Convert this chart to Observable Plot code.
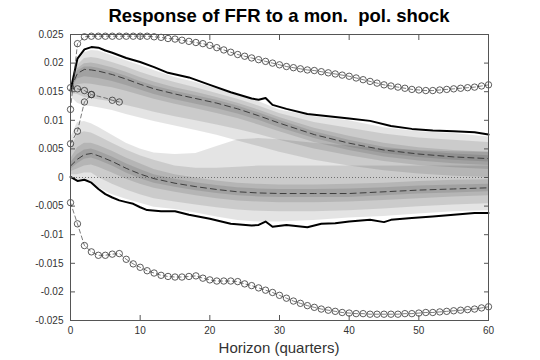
<!DOCTYPE html>
<html><head><meta charset="utf-8">
<script src="https://cdn.jsdelivr.net/npm/d3@7"></script>
<script src="https://cdn.jsdelivr.net/npm/@observablehq/plot@0.6"></script>
<style>
body{margin:0;background:#fff;font-family:"Liberation Sans",Arial,sans-serif;}
#title{height:30px;width:540px;box-sizing:border-box;padding:5px 52px 0 70px;text-align:center;font-weight:bold;font-size:18.5px;line-height:22px;white-space:pre;color:#000}
#xlabel{width:540px;box-sizing:border-box;padding:0 52px 0 70px;text-align:center;font-size:15px;line-height:20px;color:#333}
</style></head><body>
<div id="title">Response of FFR to a mon.  pol. shock</div>
<div id="chart"></div>
<div id="xlabel">Horizon (quarters)</div>
<script>
// ---- data ----
const xTicks = [0,10,20,30,40,50,60];
const xTickLabels = ["0","10","20","30","40","50","60"];
const yTicks = [-0.025,-0.02,-0.015,-0.01,-0.005,0,0.005,0.01,0.015,0.02,0.025];
const yTickLabels = ["-0.025","-0.02","-0.015","-0.01","-0.005","0","0.005","0.01","0.015","0.02","0.025"];

// horizons for fan bands and medians
const H = [0,1,2,3,4,6,8,10,12,15,18,21,24,27,30,35,40,45,50,55,60];
// upper fan median and bands (outer -> inner)
const med1   = [0.0155,0.0182,0.0189,0.0188,0.0186,0.0180,0.0172,0.0163,0.0155,0.0146,0.0138,0.0130,0.0120,0.0108,0.0095,0.0075,0.0060,0.0048,0.0041,0.0036,0.0033];
const f1b1hi = [0.0151,0.0202,0.0218,0.0222,0.0221,0.0213,0.0204,0.0196,0.0187,0.0175,0.0166,0.0155,0.0144,0.0133,0.0118,0.0106,0.0099,0.0087,0.0080,0.0077,0.0071];
const f1b1lo = [0.0142,0.0130,0.0125,0.0124,0.0122,0.0117,0.0110,0.0104,0.0098,0.0090,0.0082,0.0074,0.0064,0.0054,0.0044,0.0030,0.0020,0.0012,0.0006,0.0002,0.0000];
const f1b2hi = [0.0152,0.0196,0.0208,0.0210,0.0208,0.0201,0.0193,0.0184,0.0176,0.0166,0.0157,0.0147,0.0137,0.0125,0.0112,0.0096,0.0086,0.0076,0.0069,0.0065,0.0061];
const f1b2lo = [0.0147,0.0145,0.0140,0.0138,0.0136,0.0132,0.0126,0.0120,0.0114,0.0106,0.0099,0.0092,0.0084,0.0075,0.0065,0.0050,0.0038,0.0028,0.0021,0.0017,0.0014];
const f1b3hi = [0.0154,0.0190,0.0199,0.0200,0.0198,0.0192,0.0184,0.0175,0.0167,0.0157,0.0149,0.0140,0.0130,0.0118,0.0105,0.0086,0.0072,0.0060,0.0052,0.0047,0.0044];
const f1b3lo = [0.0150,0.0162,0.0164,0.0163,0.0161,0.0157,0.0151,0.0144,0.0137,0.0128,0.0120,0.0112,0.0103,0.0092,0.0080,0.0061,0.0047,0.0036,0.0029,0.0024,0.0021];
const f1b4hi = [0.0156,0.0186,0.0193,0.0193,0.0191,0.0185,0.0177,0.0168,0.0160,0.0151,0.0143,0.0135,0.0125,0.0113,0.0100,0.0080,0.0065,0.0053,0.0046,0.0041,0.0038];
const f1b4lo = [0.0152,0.0172,0.0176,0.0175,0.0173,0.0168,0.0161,0.0153,0.0145,0.0136,0.0128,0.0120,0.0111,0.0100,0.0087,0.0068,0.0053,0.0042,0.0035,0.0030,0.0027];
// lower fan median and bands (outer -> inner)
const med2   = [0.0020,0.0032,0.0040,0.0042,0.0038,0.0028,0.0016,0.0006,-0.0002,-0.0010,-0.0016,-0.0021,-0.0025,-0.0027,-0.0028,-0.0028,-0.0028,-0.0025,-0.0022,-0.0020,-0.0018];
const f2b1hi = [0.0068,0.0096,0.0098,0.0094,0.0088,0.0074,0.0060,0.0050,0.0043,0.0040,0.0042,0.0054,0.0066,0.0068,0.0066,0.0060,0.0055,0.0050,0.0047,0.0045,0.0044];
const f2b1lo = [0.0000,-0.0004,-0.0004,-0.0007,-0.0018,-0.0030,-0.0038,-0.0045,-0.0052,-0.0056,-0.0062,-0.0069,-0.0075,-0.0078,-0.0078,-0.0075,-0.0071,-0.0068,-0.0064,-0.0060,-0.0058];
const f2b2hi = [0.0048,0.0076,0.0080,0.0078,0.0072,0.0060,0.0048,0.0038,0.0030,0.0020,0.0016,0.0016,0.0018,0.0020,0.0020,0.0020,0.0020,0.0020,0.0020,0.0020,0.0020];
const f2b2lo = [0.0005,0.0005,0.0008,0.0008,0.0000,-0.0012,-0.0022,-0.0030,-0.0037,-0.0043,-0.0048,-0.0053,-0.0057,-0.0059,-0.0060,-0.0060,-0.0058,-0.0055,-0.0051,-0.0048,-0.0046];
const f2b3hi = [0.0032,0.0052,0.0060,0.0060,0.0056,0.0046,0.0034,0.0024,0.0014,0.0005,-0.0001,-0.0006,-0.0010,-0.0012,-0.0013,-0.0013,-0.0012,-0.0010,-0.0007,-0.0005,-0.0004];
const f2b3lo = [0.0010,0.0015,0.0020,0.0022,0.0018,0.0008,-0.0003,-0.0012,-0.0019,-0.0026,-0.0032,-0.0037,-0.0041,-0.0043,-0.0044,-0.0044,-0.0043,-0.0040,-0.0037,-0.0034,-0.0032];
const f2b4hi = [0.0026,0.0040,0.0048,0.0050,0.0046,0.0036,0.0024,0.0014,0.0005,-0.0003,-0.0009,-0.0014,-0.0018,-0.0020,-0.0021,-0.0021,-0.0020,-0.0018,-0.0015,-0.0013,-0.0012];
const f2b4lo = [0.0014,0.0024,0.0032,0.0034,0.0030,0.0020,0.0008,-0.0002,-0.0010,-0.0017,-0.0023,-0.0028,-0.0032,-0.0034,-0.0035,-0.0035,-0.0035,-0.0032,-0.0029,-0.0027,-0.0025];

// black solid bounds
const hUpper = [0,1,2,3,4,5,6,8,10,12,14,17,20,23,26,27,28,29,31,34,37,40,43,46,49,52,55,58,60];
const upper  = [0.0152,0.0208,0.0224,0.0228,0.0227,0.0222,0.0218,0.0209,0.0202,0.0193,0.0183,0.0175,0.0162,0.0149,0.0138,0.0136,0.0139,0.0127,0.0120,0.0111,0.0107,0.0103,0.0099,0.0090,0.0085,0.0082,0.0081,0.0079,0.0075];
const hLower = [0,1,2,3,4,5,6,7,8,9,10,11,13,15,17,20,23,26,27,28,29,31,34,36,38,40,43,45,46,49,52,55,58,60];
const lower  = [0.0001,-0.0006,-0.0004,-0.0009,-0.0020,-0.0029,-0.0035,-0.0040,-0.0043,-0.0046,-0.0052,-0.0057,-0.0059,-0.0059,-0.0065,-0.0072,-0.0081,-0.0084,-0.0083,-0.0077,-0.0086,-0.0083,-0.0087,-0.0081,-0.0080,-0.0077,-0.0074,-0.0078,-0.0074,-0.0071,-0.0068,-0.0065,-0.0062,-0.0062];

// circle-marker series (every quarter 0..60)
const hQ = d3.range(0, 61);
const circUpper = [0.0119,0.0234,0.0246,0.0247,0.0247,0.0247,0.0247,0.0247,0.0247,0.0247,0.0247,0.0247,0.0246,0.0245,0.0243,0.0242,0.0240,0.0238,0.0236,0.0234,0.0231,0.0227,0.0223,0.0219,0.0215,0.0212,0.0209,0.0206,0.0203,0.0200,0.0197,0.0194,0.0192,0.0190,0.0188,0.0187,0.0185,0.0183,0.0181,0.0179,0.0177,0.0174,0.0171,0.0168,0.0165,0.0162,0.0160,0.0158,0.0156,0.0154,0.0153,0.0152,0.0152,0.0153,0.0154,0.0155,0.0156,0.0157,0.0158,0.0160,0.0162];
const circLower = [-0.0044,-0.0081,-0.0119,-0.0130,-0.0136,-0.0136,-0.0134,-0.0133,-0.0143,-0.0151,-0.0157,-0.0163,-0.0167,-0.0171,-0.0173,-0.0174,-0.0174,-0.0173,-0.0172,-0.0176,-0.0179,-0.0181,-0.0181,-0.0181,-0.0182,-0.0186,-0.0189,-0.0193,-0.0197,-0.0201,-0.0206,-0.0211,-0.0216,-0.0220,-0.0224,-0.0227,-0.0230,-0.0232,-0.0234,-0.0236,-0.0237,-0.0238,-0.0238,-0.0239,-0.0239,-0.0239,-0.0239,-0.0239,-0.0238,-0.0238,-0.0237,-0.0236,-0.0236,-0.0235,-0.0234,-0.0233,-0.0232,-0.0231,-0.0230,-0.0228,-0.0226];
// short circle series near impact
const hShortA = [0,1,2,3];
const shortA  = [0.0059,0.0081,0.0132,0.0145];
const hShortB = [0,1,2,3,4,5,6,7];
const shortB  = [0.0157,0.0155,0.0152,0.0145,0.0142,0.0139,0.0135,0.0132];
const shortBMarked = [0,1,2,3,6,7];

// ---- build tables ----
const toRows = (xs, ys) => xs.map((h, i) => ({h, v: ys[i]}));
const band = (lo, hi) => H.map((h, i) => ({h, lo: lo[i], hi: hi[i]}));
const bands = [
  [f2b1lo,f2b1hi],[f2b2lo,f2b2hi],[f2b3lo,f2b3hi],[f2b4lo,f2b4hi],
  [f1b1lo,f1b1hi],[f1b2lo,f1b2hi],[f1b3lo,f1b3hi],[f1b4lo,f1b4hi]
];
const rowsB = toRows(hShortB, shortB);
const fmtY = d => yTickLabels[yTicks.findIndex(t => Math.abs(t - d) < 1e-9)];
const fmtX = d => xTickLabels[xTicks.indexOf(d)];

const axisColor = "#555";
const lineStyle = {x: "h", y: "v", stroke: "#444", strokeWidth: 0.7, strokeDasharray: "4,3"};
const dotStyle = {x: "h", y: "v", r: 3.2, stroke: "#333", strokeWidth: 0.8, fill: "none"};
const plot = Plot.plot({
  width: 540,
  height: 308,
  marginLeft: 70,
  marginRight: 52,
  marginTop: 4,
  marginBottom: 18,
  style: {fontFamily: "'Liberation Sans', Arial, sans-serif", fontSize: "10px", color: "#333", background: "white"},
  x: {domain: [0, 60], label: null},
  y: {domain: [-0.025, 0.025], label: null},
  marks: [
    ...bands.map(([lo, hi]) => Plot.areaY(band(lo, hi), {x: "h", y1: "lo", y2: "hi", fill: "#000", fillOpacity: 0.105})),
    Plot.ruleY([0], {stroke: "#555", strokeWidth: 0.8, strokeDasharray: "1,2"}),
    Plot.line(toRows(H, med1), {x: "h", y: "v", stroke: "#333", strokeWidth: 0.9, strokeDasharray: "6,4"}),
    Plot.line(toRows(H, med2), {x: "h", y: "v", stroke: "#333", strokeWidth: 0.9, strokeDasharray: "6,4"}),
    Plot.line(toRows(hUpper, upper), {x: "h", y: "v", stroke: "#000", strokeWidth: 2}),
    Plot.line(toRows(hLower, lower), {x: "h", y: "v", stroke: "#000", strokeWidth: 2}),
    Plot.line(toRows(hQ, circUpper), lineStyle),
    Plot.dot(toRows(hQ, circUpper), dotStyle),
    Plot.line(toRows(hQ, circLower), lineStyle),
    Plot.dot(toRows(hQ, circLower), dotStyle),
    Plot.line(toRows(hShortA, shortA), lineStyle),
    Plot.dot(toRows(hShortA, shortA), dotStyle),
    Plot.line(rowsB, lineStyle),
    Plot.dot(rowsB.filter(d => shortBMarked.includes(d.h)), dotStyle),
    Plot.frame({stroke: axisColor, strokeWidth: 1}),
    // labels
    Plot.axisY(yTicks, {anchor: "left", tickSize: 0, tickPadding: 7, tickFormat: fmtY, label: null}),
    Plot.axisX(xTicks, {anchor: "bottom", tickSize: 0, tickPadding: 6, tickFormat: fmtX, label: null}),
    // inward ticks
    Plot.axisY(yTicks, {anchor: "left", tickSize: 5, dx: 5, tickFormat: () => "", label: null, stroke: axisColor}),
    Plot.axisY(yTicks, {anchor: "right", tickSize: 5, dx: -5, tickFormat: () => "", label: null, stroke: axisColor}),
    Plot.axisX(xTicks, {anchor: "bottom", tickSize: 5, dy: -5, tickFormat: () => "", label: null, stroke: axisColor}),
    Plot.axisX(xTicks, {anchor: "top", tickSize: 5, dy: 5, tickFormat: () => "", label: null, stroke: axisColor})
  ]
});
document.getElementById("chart").appendChild(plot);
</script></body></html>
